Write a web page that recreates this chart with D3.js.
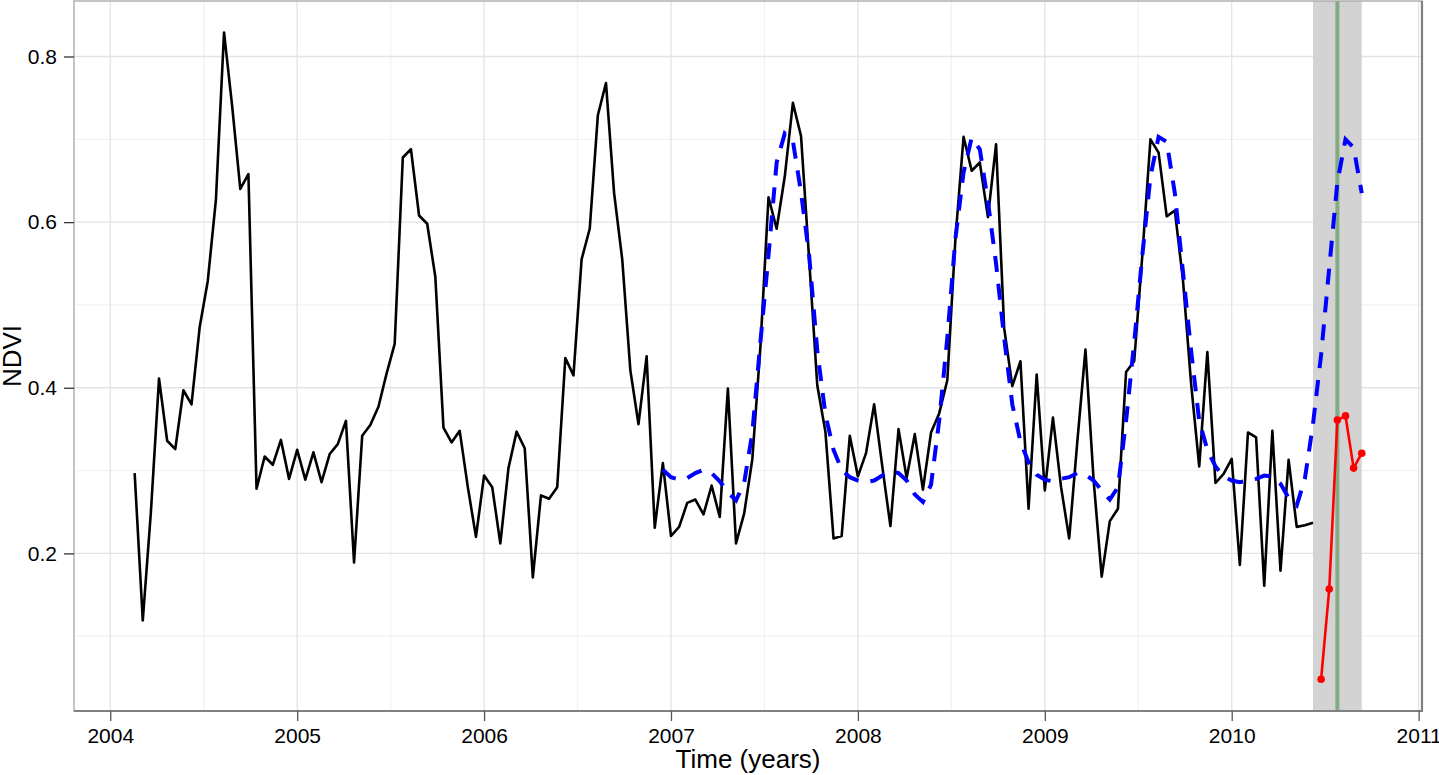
<!DOCTYPE html>
<html>
<head>
<meta charset="utf-8">
<script src="https://cdn.jsdelivr.net/npm/d3@7"></script>
<style>
  html, body { margin: 0; padding: 0; background: #ffffff; }
  svg { display: block; font-family: "Liberation Sans", Arial, Helvetica, sans-serif; }
</style>
</head>
<body>
<svg id="chart" width="1439" height="775"></svg>
<script>
// ---- data (16-day NDVI series, 23 observations per year) ----
const freq = 23;
const startYear = 2004;

// black: observed NDVI history, observations k = 3 .. 148
const historyStart = 3;
const historyValues = [
  0.297, 0.119, 0.250, 0.411, 0.336, 0.326, 0.397, 0.380, 0.473, 0.529,
  0.627, 0.829, 0.740, 0.640, 0.658, 0.278, 0.317, 0.307, 0.337, 0.290,
  0.325, 0.289, 0.322, 0.286, 0.320, 0.332, 0.360, 0.189, 0.342, 0.355,
  0.377, 0.417, 0.453, 0.678, 0.688, 0.608, 0.598, 0.534, 0.352, 0.334,
  0.348, 0.280, 0.220, 0.294, 0.280, 0.212, 0.303, 0.347, 0.327, 0.171,
  0.270, 0.266, 0.280, 0.436, 0.415, 0.555, 0.592, 0.729, 0.768, 0.635,
  0.555, 0.421, 0.356, 0.438, 0.231, 0.309, 0.221, 0.232, 0.261, 0.265,
  0.247, 0.282, 0.244, 0.399, 0.212, 0.248, 0.313, 0.449, 0.630, 0.592,
  0.655, 0.744, 0.704, 0.555, 0.403, 0.347, 0.218, 0.221, 0.342, 0.293,
  0.321, 0.380, 0.305, 0.233, 0.350, 0.291, 0.344, 0.277, 0.346, 0.369,
  0.409, 0.580, 0.703, 0.662, 0.672, 0.606, 0.694, 0.472, 0.402, 0.432,
  0.254, 0.416, 0.276, 0.364, 0.280, 0.218, 0.335, 0.446, 0.289, 0.172,
  0.239, 0.254, 0.419, 0.432, 0.560, 0.700, 0.684, 0.607, 0.614, 0.530,
  0.405, 0.305, 0.443, 0.285, 0.296, 0.314, 0.186, 0.346, 0.340, 0.161,
  0.348, 0.179, 0.313, 0.232, 0.234, 0.237
];

// red: monitoring period observations, k = 149 .. 154
const monitorStart = 149;
const monitorValues = [0.048, 0.157, 0.361, 0.366, 0.303, 0.321];

// blue dashed: fitted season model, k = 68 .. 154
const fitStart = 68;
const fitValues = [
  0.301,
  // 2007
  0.292, 0.289, 0.291, 0.297, 0.301, 0.297, 0.287, 0.274, 0.264, 0.285,
  0.345, 0.455, 0.560, 0.672, 0.707, 0.698, 0.636, 0.560, 0.445, 0.368,
  0.325, 0.301, 0.292,
  // 2008
  0.288, 0.286, 0.288, 0.294, 0.299, 0.297, 0.288, 0.271, 0.262, 0.283,
  0.360, 0.460, 0.580, 0.660, 0.702, 0.688, 0.625, 0.550, 0.460, 0.380,
  0.335, 0.310, 0.295,
  // 2009
  0.289, 0.287, 0.290, 0.292, 0.297, 0.295, 0.288, 0.276, 0.265, 0.280,
  0.360, 0.455, 0.560, 0.655, 0.703, 0.697, 0.635, 0.540, 0.445, 0.360,
  0.325, 0.305, 0.293,
  // 2010
  0.288, 0.286, 0.288, 0.290, 0.294, 0.293, 0.284, 0.267, 0.258, 0.290,
  0.356, 0.440, 0.545, 0.648, 0.700, 0.690, 0.635
];

// monitoring window (grey band) and detected break (green line), as observation indices
const bandStartIndex = 148;
const bandEndIndex = 154;
const breakIndex = 151;

const xTicks = [2004, 2005, 2006, 2007, 2008, 2009, 2010, 2011];
const xMinorTicks = [2004.5, 2005.5, 2006.5, 2007.5, 2008.5, 2009.5, 2010.5];
const yTicks = [0.2, 0.4, 0.6, 0.8];
const yMinorTicks = [0.1, 0.3, 0.5, 0.7];

// ---- helpers ----
const toTime = k => startYear + k / freq;
const toPoints = (start, vals) => vals.map((v, i) => ({ t: toTime(start + i), v }));
const history = toPoints(historyStart, historyValues);
const monitor = toPoints(monitorStart, monitorValues);
const fit = toPoints(fitStart, fitValues);

// ---- layout ----
const L = 74, R = 1422, T = 1, B = 711;
const svg = d3.select("#chart");

const x = d3.scaleLinear().domain([2003.806, 2011.018]).range([L, R]);
const y = d3.scaleLinear().domain([0.0097, 0.867]).range([B, T]);

// grid
const grid = svg.append("g");
grid.selectAll(".xmin").data(xMinorTicks).enter().append("line")
  .attr("x1", d => x(d)).attr("x2", d => x(d)).attr("y1", T).attr("y2", B)
  .attr("stroke", "#f2f2f2").attr("stroke-width", 1.3);
grid.selectAll(".ymin").data(yMinorTicks).enter().append("line")
  .attr("y1", d => y(d)).attr("y2", d => y(d)).attr("x1", L).attr("x2", R)
  .attr("stroke", "#f2f2f2").attr("stroke-width", 1.3);
grid.selectAll(".xmaj").data(xTicks).enter().append("line")
  .attr("x1", d => x(d)).attr("x2", d => x(d)).attr("y1", T).attr("y2", B)
  .attr("stroke", "#e3e3e3").attr("stroke-width", 1.3);
grid.selectAll(".ymaj").data(yTicks).enter().append("line")
  .attr("y1", d => y(d)).attr("y2", d => y(d)).attr("x1", L).attr("x2", R)
  .attr("stroke", "#e3e3e3").attr("stroke-width", 1.3);

// monitoring band
svg.append("rect")
  .attr("x", x(toTime(bandStartIndex)))
  .attr("width", x(toTime(bandEndIndex)) - x(toTime(bandStartIndex)))
  .attr("y", T).attr("height", B - T)
  .attr("fill", "#d3d3d3");

// break line
svg.append("line")
  .attr("x1", x(toTime(breakIndex))).attr("x2", x(toTime(breakIndex)))
  .attr("y1", T).attr("y2", B)
  .attr("stroke", "#83ab83").attr("stroke-width", 4);

const line = d3.line().x(d => x(d.t)).y(d => y(d.v));

svg.append("path").datum(history)
  .attr("d", line).attr("fill", "none")
  .attr("stroke", "#000").attr("stroke-width", 2.6).attr("stroke-linejoin", "round");

svg.append("path").datum(fit)
  .attr("d", line).attr("fill", "none")
  .attr("stroke", "#0000ff").attr("stroke-width", 4)
  .attr("stroke-dasharray", "16,12");

svg.append("path").datum(monitor)
  .attr("d", line).attr("fill", "none")
  .attr("stroke", "#ff0000").attr("stroke-width", 2.6);
svg.selectAll(".mon").data(monitor).enter().append("circle")
  .attr("cx", d => x(d.t)).attr("cy", d => y(d.v)).attr("r", 3.8)
  .attr("fill", "#ff0000");

// panel border
svg.append("rect").attr("x", L).attr("y", T).attr("width", R - L).attr("height", B - T)
  .attr("fill", "none").attr("stroke", "#a6a6a6").attr("stroke-width", 1.3);
svg.append("line").attr("x1", L).attr("x2", R + 1).attr("y1", B).attr("y2", B)
  .attr("stroke", "#808080").attr("stroke-width", 2.2);
svg.append("line").attr("x1", R).attr("x2", R).attr("y1", T).attr("y2", B)
  .attr("stroke", "#808080").attr("stroke-width", 2.2);

// axes
const xAxis = d3.axisBottom(x).tickValues(xTicks).tickFormat(d3.format("d"))
  .tickSize(10).tickPadding(7);
const gx = svg.append("g").attr("transform", `translate(0,${B})`).call(xAxis);
gx.select(".domain").remove();
gx.selectAll(".tick line").attr("stroke", "#555").attr("stroke-width", 1.3);
gx.selectAll(".tick text").attr("font-size", 21).attr("fill", "#000")
  .attr("font-family", "Liberation Sans, Arial, sans-serif");

const yAxis = d3.axisLeft(y).tickValues(yTicks).tickFormat(d3.format(".1f"))
  .tickSize(10).tickPadding(7);
const gy = svg.append("g").attr("transform", `translate(${L},0)`).call(yAxis);
gy.select(".domain").remove();
gy.selectAll(".tick line").attr("stroke", "#333").attr("stroke-width", 1.3);
gy.selectAll(".tick text").attr("font-size", 21).attr("fill", "#000")
  .attr("font-family", "Liberation Sans, Arial, sans-serif");

// axis titles
svg.append("text").attr("x", (L + R) / 2).attr("y", 768)
  .attr("text-anchor", "middle").attr("font-size", 26).attr("fill", "#000")
  .text("Time (years)");
svg.append("text")
  .attr("transform", `translate(21,${(T + B) / 2}) rotate(-90)`)
  .attr("text-anchor", "middle").attr("font-size", 26).attr("fill", "#000")
  .text("NDVI");
</script>
</body>
</html>
